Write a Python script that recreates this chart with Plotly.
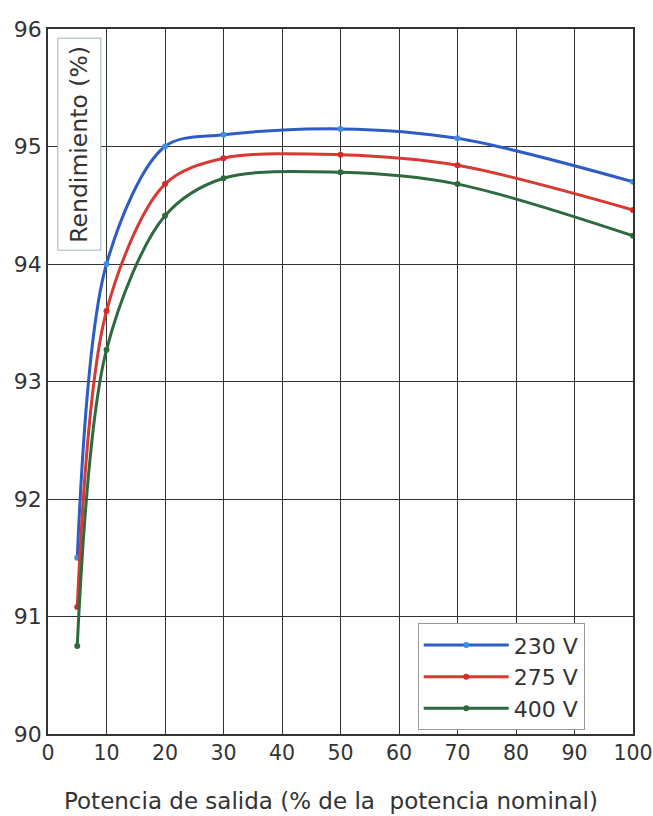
import plotly.graph_objects as go

potencia = [5, 10, 20, 30, 50, 70, 100]
rend_230 = [91.5, 94.0, 95.0, 95.1, 95.15, 95.07, 94.7]
rend_275 = [91.08, 93.6, 94.68, 94.9, 94.93, 94.84, 94.46]
rend_400 = [90.75, 93.27, 94.41, 94.73, 94.78, 94.68, 94.24]
series_names = ["230 V", "275 V", "400 V"]
line_colors = ["#2f5cc4", "#d63a33", "#2d6b3f"]
marker_colors = ["#3d8ee0", "#d42a2a", "#2d6b3f"]
x_ticks = [0, 10, 20, 30, 40, 50, 60, 70, 80, 90, 100]
y_ticks = [90, 91, 92, 93, 94, 95, 96]
x_title = "Potencia de salida (% de la  potencia nominal)"
y_title = "Rendimiento (%)"

FONT = "DejaVu Sans, Verdana, sans-serif"
TXT = "#333333"

fig = go.Figure()
for name, ys, lc, mc in zip(series_names, [rend_230, rend_275, rend_400], line_colors, marker_colors):
    fig.add_trace(go.Scatter(
        x=potencia, y=ys, name=name, mode="lines+markers",
        line=dict(color=lc, width=3, shape="spline", smoothing=0.9),
        marker=dict(color=mc, size=6),
    ))

fig.update_layout(
    width=653, height=816,
    margin=dict(l=48, r=20, t=29, b=82),
    paper_bgcolor="white", plot_bgcolor="white",
    font=dict(family=FONT, color=TXT),
    showlegend=True,
    legend=dict(
        x=0.632, y=0.157, xanchor="left", yanchor="top",
        bgcolor="white", bordercolor="#999999", borderwidth=1,
        font=dict(size=22, color=TXT, family=FONT),
        itemwidth=85, tracegroupgap=0,
    ),
    xaxis=dict(
        range=[0, 100], tickvals=x_ticks, ticks="", showline=True,
        linecolor="#333333", linewidth=1.5, mirror=True,
        showgrid=True, gridcolor="#333333", gridwidth=1.3,
        tickfont=dict(size=20.5, color=TXT, family=FONT), zeroline=False,
        automargin=False,
    ),
    yaxis=dict(
        range=[90, 96], tickvals=y_ticks, ticks="", showline=True,
        linecolor="#333333", linewidth=1.5, mirror=True,
        showgrid=True, gridcolor="#333333", gridwidth=1.3,
        tickfont=dict(size=22, color=TXT, family=FONT), zeroline=False,
        automargin=False,
    ),
    annotations=[
        dict(
            text=y_title, textangle=-90, xref="paper", yref="paper",
            x=0.0154, y=0.987, xanchor="left", yanchor="top", showarrow=False,
            font=dict(size=23.5, color=TXT, family=FONT), bgcolor="white",
            bordercolor="#9fb8b8", borderwidth=1, borderpad=7,
        ),
        dict(
            text=x_title, xref="paper", yref="paper",
            x=0.5, y=0, xanchor="center", yanchor="top", xshift=-10, yshift=-52,
            showarrow=False, font=dict(size=23, color=TXT, family=FONT),
        ),
    ],
)

fig.write_html(
    "out.html",
    config={"displayModeBar": False},
    post_script="document.body.style.margin='0';document.body.style.overflow='hidden';",
)
